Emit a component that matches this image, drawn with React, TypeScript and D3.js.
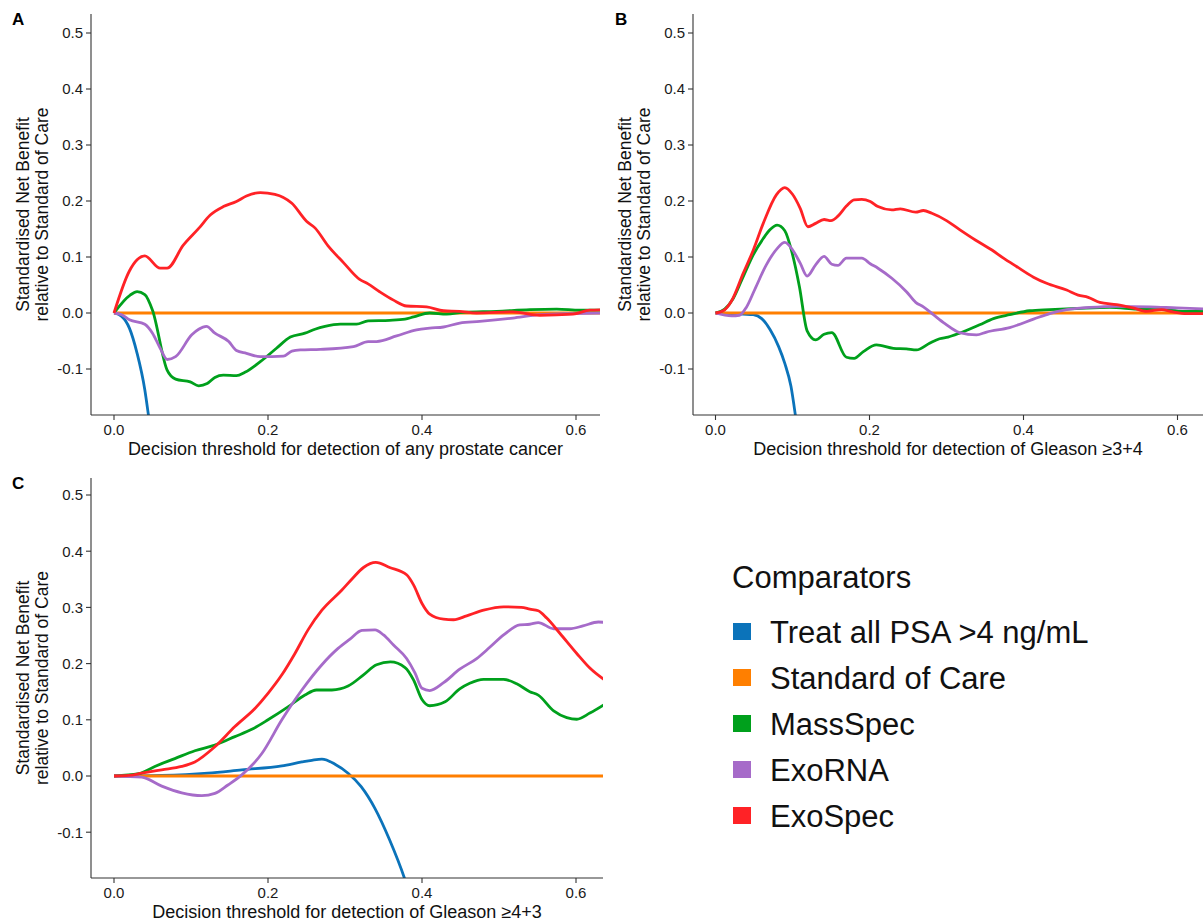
import React, { useEffect, useRef } from "react";
import * as d3 from "d3";

// legend / series
const seriesNames = ["Treat all PSA >4 ng/mL", "Standard of Care", "MassSpec", "ExoRNA", "ExoSpec"];
const seriesColors = ["#0b73ba", "#ff7f00", "#00a01c", "#a66bc9", "#ff2226"];

const xTicks = [0, 0.2, 0.4, 0.6];
const xTickLabels = ["0.0", "0.2", "0.4", "0.6"];
const yTicks = [-0.1, 0, 0.1, 0.2, 0.3, 0.4, 0.5];
const yTickLabels = ["-0.1", "0.0", "0.1", "0.2", "0.3", "0.4", "0.5"];

// [threshold, standardised net benefit]
const treatAllA = [[0, 0], [0.01, -0.006], [0.02, -0.027], [0.03, -0.072], [0.04, -0.137], [0.045, -0.185], [0.05, -0.235]];
const standardA = [[0, 0], [0.64, 0]];
const massSpecA = [[0, 0], [0.021, 0.032], [0.03, 0.038], [0.04, 0.033], [0.05, 0.005], [0.069, -0.102], [0.08, -0.118], [0.099, -0.123], [0.11, -0.13], [0.121, -0.126], [0.131, -0.115], [0.142, -0.111], [0.159, -0.112], [0.17, -0.106], [0.19, -0.087], [0.211, -0.063], [0.229, -0.043], [0.248, -0.036], [0.261, -0.029], [0.274, -0.024], [0.294, -0.02], [0.315, -0.02], [0.33, -0.014], [0.358, -0.013], [0.378, -0.011], [0.389, -0.007], [0.41, 0.0], [0.432, -0.002], [0.453, 0.001], [0.497, 0.003], [0.54, 0.006], [0.575, 0.007], [0.605, 0.005], [0.64, 0.005]];
const exoRnaA = [[0, 0], [0.01, -0.003], [0.02, -0.012], [0.04, -0.02], [0.05, -0.036], [0.06, -0.063], [0.069, -0.083], [0.08, -0.078], [0.101, -0.039], [0.11, -0.029], [0.12, -0.024], [0.131, -0.036], [0.149, -0.051], [0.159, -0.067], [0.172, -0.072], [0.19, -0.078], [0.22, -0.077], [0.231, -0.068], [0.242, -0.066], [0.268, -0.065], [0.311, -0.06], [0.33, -0.051], [0.341, -0.051], [0.367, -0.041], [0.393, -0.03], [0.41, -0.027], [0.428, -0.025], [0.449, -0.018], [0.475, -0.015], [0.518, -0.009], [0.553, -0.003], [0.596, -0.001], [0.64, 0]];
const exoSpecA = [[0, 0], [0.02, 0.075], [0.03, 0.095], [0.04, 0.102], [0.06, 0.08], [0.069, 0.08], [0.09, 0.121], [0.11, 0.151], [0.125, 0.175], [0.142, 0.19], [0.159, 0.199], [0.172, 0.209], [0.19, 0.215], [0.209, 0.212], [0.231, 0.196], [0.25, 0.164], [0.261, 0.152], [0.278, 0.12], [0.298, 0.09], [0.319, 0.06], [0.33, 0.052], [0.345, 0.038], [0.363, 0.023], [0.38, 0.0125], [0.406, 0.011], [0.428, 0.004], [0.449, 0.003], [0.471, 0.0], [0.518, 0.002], [0.553, -0.004], [0.596, -0.002], [0.618, 0.005], [0.64, 0.006]];

const treatAllB = [[0, 0], [0.023, -0.001], [0.049, -0.003], [0.06, -0.01], [0.071, -0.03], [0.082, -0.06], [0.09, -0.09], [0.098, -0.131], [0.104, -0.185], [0.109, -0.235]];
const standardB = [[0, 0], [0.64, 0]];
const massSpecB = [[0, 0], [0.012, 0.007], [0.023, 0.026], [0.036, 0.065], [0.049, 0.104], [0.062, 0.133], [0.071, 0.149], [0.08, 0.157], [0.09, 0.147], [0.099, 0.11], [0.109, 0.047], [0.119, -0.032], [0.13, -0.048], [0.141, -0.038], [0.151, -0.035], [0.17, -0.079], [0.18, -0.081], [0.192, -0.069], [0.209, -0.057], [0.231, -0.063], [0.248, -0.064], [0.261, -0.066], [0.278, -0.054], [0.291, -0.046], [0.302, -0.043], [0.317, -0.036], [0.343, -0.021], [0.361, -0.01], [0.382, -0.003], [0.408, 0.004], [0.434, 0.006], [0.469, 0.008], [0.512, 0.01], [0.547, 0.007], [0.581, 0.006], [0.607, 0.003], [0.64, 0.003]];
const exoRnaB = [[0, 0], [0.021, -0.005], [0.031, -0.004], [0.04, 0.01], [0.051, 0.042], [0.066, 0.086], [0.08, 0.115], [0.09, 0.126], [0.1, 0.113], [0.11, 0.089], [0.119, 0.066], [0.13, 0.086], [0.141, 0.101], [0.151, 0.087], [0.159, 0.085], [0.17, 0.098], [0.19, 0.098], [0.201, 0.088], [0.211, 0.08], [0.229, 0.062], [0.248, 0.038], [0.26, 0.019], [0.27, 0.011], [0.283, -0.003], [0.298, -0.019], [0.317, -0.035], [0.339, -0.039], [0.352, -0.034], [0.382, -0.026], [0.413, -0.011], [0.434, -0.001], [0.456, 0.006], [0.486, 0.01], [0.521, 0.012], [0.564, 0.011], [0.599, 0.009], [0.64, 0.007]];
const exoSpecB = [[0, 0], [0.01, 0.004], [0.021, 0.022], [0.036, 0.071], [0.049, 0.112], [0.062, 0.16], [0.079, 0.211], [0.09, 0.224], [0.1, 0.212], [0.11, 0.187], [0.12, 0.154], [0.13, 0.16], [0.141, 0.167], [0.15, 0.165], [0.159, 0.173], [0.17, 0.191], [0.18, 0.202], [0.19, 0.203], [0.201, 0.199], [0.211, 0.19], [0.229, 0.184], [0.24, 0.186], [0.26, 0.18], [0.27, 0.183], [0.281, 0.178], [0.3, 0.165], [0.317, 0.149], [0.338, 0.13], [0.359, 0.1125], [0.374, 0.098], [0.391, 0.083], [0.413, 0.064], [0.43, 0.053], [0.456, 0.041], [0.471, 0.032], [0.484, 0.028], [0.499, 0.019], [0.521, 0.015], [0.542, 0.009], [0.56, 0.003], [0.579, 0.006], [0.594, 0.002], [0.612, -0.001], [0.64, -0.001]];

const treatAllC = [[0, 0], [0.062, 0.001], [0.122, 0.005], [0.166, 0.011], [0.218, 0.018], [0.244, 0.025], [0.257, 0.028], [0.27, 0.03], [0.287, 0.021], [0.304, 0.005], [0.321, -0.019], [0.339, -0.058], [0.358, -0.114], [0.377, -0.181], [0.385, -0.215]];
const standardC = [[0, 0], [0.64, 0]];
const massSpecC = [[0, 0], [0.032, 0.004], [0.053, 0.017], [0.079, 0.031], [0.105, 0.045], [0.131, 0.055], [0.157, 0.07], [0.179, 0.083], [0.2, 0.1], [0.226, 0.123], [0.248, 0.144], [0.263, 0.153], [0.283, 0.153], [0.304, 0.16], [0.324, 0.18], [0.341, 0.198], [0.359, 0.203], [0.378, 0.193], [0.389, 0.171], [0.4, 0.136], [0.41, 0.125], [0.43, 0.132], [0.449, 0.155], [0.462, 0.165], [0.48, 0.172], [0.506, 0.172], [0.523, 0.164], [0.54, 0.15], [0.551, 0.144], [0.571, 0.116], [0.588, 0.104], [0.601, 0.101], [0.618, 0.112], [0.64, 0.13]];
const exoRnaC = [[0, 0], [0.036, -0.002], [0.062, -0.018], [0.088, -0.03], [0.114, -0.035], [0.131, -0.031], [0.148, -0.016], [0.166, 0.002], [0.192, 0.04], [0.218, 0.1], [0.244, 0.153], [0.27, 0.198], [0.291, 0.227], [0.306, 0.243], [0.322, 0.259], [0.339, 0.26], [0.35, 0.251], [0.363, 0.233], [0.38, 0.209], [0.391, 0.183], [0.4, 0.156], [0.41, 0.152], [0.428, 0.166], [0.449, 0.19], [0.471, 0.209], [0.488, 0.229], [0.506, 0.251], [0.527, 0.269], [0.54, 0.27], [0.551, 0.273], [0.571, 0.262], [0.592, 0.262], [0.609, 0.267], [0.629, 0.274], [0.64, 0.273]];
const exoSpecC = [[0, 0], [0.019, 0.001], [0.036, 0.005], [0.062, 0.011], [0.088, 0.017], [0.105, 0.025], [0.131, 0.052], [0.157, 0.088], [0.183, 0.12], [0.2, 0.147], [0.218, 0.18], [0.235, 0.218], [0.252, 0.26], [0.27, 0.295], [0.296, 0.331], [0.31, 0.352], [0.324, 0.371], [0.34, 0.38], [0.358, 0.371], [0.38, 0.358], [0.389, 0.34], [0.4, 0.307], [0.41, 0.288], [0.428, 0.279], [0.441, 0.278], [0.458, 0.285], [0.48, 0.295], [0.506, 0.301], [0.529, 0.3], [0.54, 0.297], [0.551, 0.294], [0.562, 0.281], [0.579, 0.254], [0.601, 0.218], [0.618, 0.192], [0.64, 0.168]];

const FONT = "'Liberation Sans', Arial, Helvetica, sans-serif";
const W = 1203;
const H = 922;

const panels = [
  {
    id: "A", letter: "A", letterX: 12, letterY: 25,
    box: { left: 91, right: 600, top: 14, bottom: 415 },
    x0: 114, xUnit: 770, y0: 313, yUnit: 560,
    xTitle: "Decision threshold for detection of any prostate cancer",
    series: [treatAllA, standardA, massSpecA, exoRnaA, exoSpecA],
  },
  {
    id: "B", letter: "B", letterX: 615, letterY: 25,
    box: { left: 693, right: 1203, top: 14, bottom: 415 },
    x0: 715.5, xUnit: 770, y0: 313, yUnit: 560,
    xTitle: "Decision threshold for detection of Gleason \u22653+4",
    series: [treatAllB, standardB, massSpecB, exoRnaB, exoSpecB],
  },
  {
    id: "C", letter: "C", letterX: 12, letterY: 489,
    box: { left: 91, right: 603, top: 478, bottom: 878 },
    x0: 114, xUnit: 770, y0: 776, yUnit: 562,
    xTitle: "Decision threshold for detection of Gleason \u22654+3",
    series: [treatAllC, standardC, massSpecC, exoRnaC, exoSpecC],
  },
];

function drawPanel(svg, p) {
  const { left, right, top, bottom } = p.box;
  const x = d3.scaleLinear().domain([0, 0.6]).range([p.x0, p.x0 + 0.6 * p.xUnit]);
  const y = d3.scaleLinear().domain([0, 0.1]).range([p.y0, p.y0 - 0.1 * p.yUnit]);

  const g = svg.append("g").attr("class", "panel-" + p.id);
  const clipId = "clip-" + p.id;
  g.append("clipPath").attr("id", clipId)
    .append("rect")
    .attr("x", left).attr("y", top)
    .attr("width", right - left).attr("height", bottom - top);

  const line = d3.line()
    .x((d) => x(d[0]))
    .y((d) => y(d[1]))
    .curve(d3.curveMonotoneX);

  g.append("g").attr("clip-path", `url(#${clipId})`)
    .selectAll("path")
    .data(p.series)
    .join("path")
    .attr("d", (d) => line(d))
    .attr("fill", "none")
    .attr("stroke", (d, i) => seriesColors[i])
    .attr("stroke-width", 2.8)
    .attr("stroke-linejoin", "round");

  // axes
  const axisColor = "#333";
  g.append("line").attr("x1", left).attr("x2", left).attr("y1", top).attr("y2", bottom)
    .attr("stroke", axisColor).attr("stroke-width", 1.1);
  g.append("line").attr("x1", left).attr("x2", right).attr("y1", bottom).attr("y2", bottom)
    .attr("stroke", axisColor).attr("stroke-width", 1.1);

  g.selectAll(".ytick").data(yTicks).join("line").attr("class", "ytick")
    .attr("x1", left - 5).attr("x2", left)
    .attr("y1", (d) => y(d)).attr("y2", (d) => y(d))
    .attr("stroke", axisColor).attr("stroke-width", 1.1);
  g.selectAll(".ylab").data(yTicks).join("text").attr("class", "ylab")
    .attr("x", left - 8).attr("y", (d) => y(d)).attr("dy", "0.36em")
    .attr("text-anchor", "end")
    .attr("font-family", FONT).attr("font-size", 15).attr("fill", "#1a1a1a")
    .text((d, i) => yTickLabels[i]);

  g.selectAll(".xtick").data(xTicks).join("line").attr("class", "xtick")
    .attr("x1", (d) => x(d)).attr("x2", (d) => x(d))
    .attr("y1", bottom).attr("y2", bottom + 5)
    .attr("stroke", axisColor).attr("stroke-width", 1.1);
  g.selectAll(".xlab").data(xTicks).join("text").attr("class", "xlab")
    .attr("x", (d) => x(d)).attr("y", bottom + 20)
    .attr("text-anchor", "middle")
    .attr("font-family", FONT).attr("font-size", 15).attr("fill", "#1a1a1a")
    .text((d, i) => xTickLabels[i]);

  // titles
  g.append("text")
    .attr("x", (left + right) / 2).attr("y", bottom + 39.5)
    .attr("text-anchor", "middle")
    .attr("font-family", FONT).attr("font-size", 18).attr("fill", "#111")
    .text(p.xTitle);

  const midY = (top + bottom) / 2;
  ["Standardised Net Benefit", "relative to Standard of Care"].forEach((t, i) => {
    const bx = left - 62 + i * 18.5;
    g.append("text")
      .attr("transform", `translate(${bx},${midY}) rotate(-90)`)
      .attr("text-anchor", "middle")
      .attr("font-family", FONT).attr("font-size", 17.5).attr("fill", "#111")
      .text(t);
  });

  g.append("text")
    .attr("x", p.letterX).attr("y", p.letterY)
    .attr("font-family", FONT).attr("font-size", 17).attr("font-weight", "bold")
    .attr("fill", "#000")
    .text(p.letter);
}

function drawLegend(svg) {
  const lg = svg.append("g").attr("class", "legend").attr("transform", "translate(733,0)");
  lg.append("text").attr("x", -1).attr("y", 588)
    .attr("font-family", FONT).attr("font-size", 31).attr("fill", "#111")
    .text("Comparators");
  const rows = lg.selectAll(".item").data(seriesNames).join("g").attr("class", "item")
    .attr("transform", (d, i) => `translate(0,${631.5 + i * 46})`);
  rows.append("rect").attr("x", 0).attr("y", -8.5).attr("width", 18).attr("height", 17)
    .attr("fill", (d, i) => seriesColors[i]);
  rows.append("text").attr("x", 37).attr("y", 11)
    .attr("font-family", FONT).attr("font-size", 31).attr("fill", "#111")
    .text((d) => d);
}

export default function App() {
  const ref = useRef(null);
  useEffect(() => {
    const svg = d3.select(ref.current);
    svg.selectAll("*").remove();
    svg.append("rect").attr("width", W).attr("height", H).attr("fill", "#fff");
    panels.forEach((p) => drawPanel(svg, p));
    drawLegend(svg);
  }, []);
  return (
    <svg
      ref={ref}
      width={W}
      height={H}
      style={{ position: "absolute", left: 0, top: 0, display: "block" }}
    />
  );
}
